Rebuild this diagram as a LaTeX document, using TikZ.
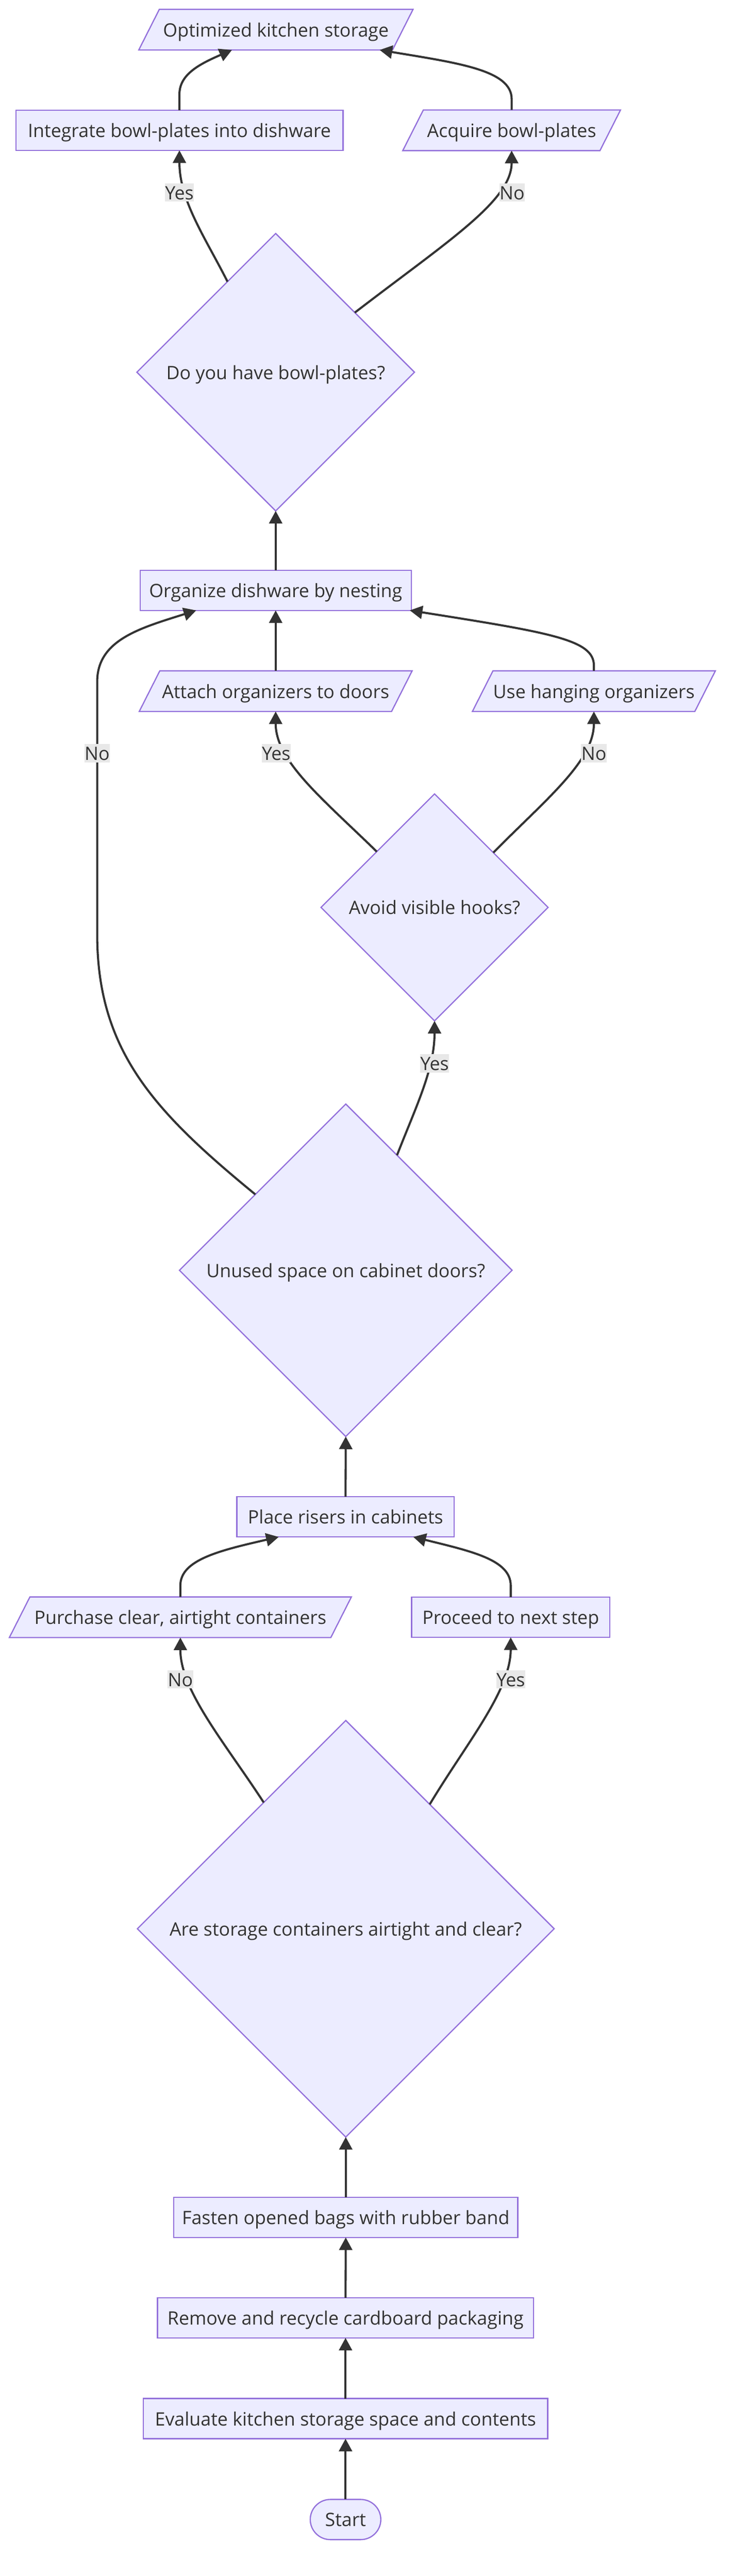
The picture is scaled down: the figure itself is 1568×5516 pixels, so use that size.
\documentclass[tikz,border=0pt]{standalone}
\usepackage{fontspec}
\setmainfont{Open Sans}
\usetikzlibrary{shapes.geometric,arrows.meta,backgrounds}
\definecolor{nfill}{HTML}{ECECFF}
\definecolor{nline}{HTML}{9370DB}
\definecolor{eline}{HTML}{333333}
\definecolor{lbg}{HTML}{E8E8E8}
\begin{document}
\begin{tikzpicture}[x=1pt,y=-1pt,
  every node/.style={font=\fontsize{39.5}{47}\selectfont, text=eline, inner sep=0pt, outer sep=0pt, text height=30pt, text depth=0pt},
  box/.style={rectangle, draw=nline, fill=nfill, line width=2.6pt, minimum height=86pt},
  pg/.style={rectangle, minimum height=87pt},
  dia/.style={diamond, aspect=1, draw=nline, fill=nfill, line width=2.6pt},
  term/.style={rectangle, rounded corners=43pt, draw=nline, fill=nfill, line width=2.6pt, minimum height=86pt, minimum width=151pt},
  pgshape/.style={draw=nline, fill=nfill, line width=2.6pt},
  conn/.style={draw=eline, line width=4.5pt, -{Triangle[length=27pt,width=28pt]}},
  lbl/.style={fill=lbg, inner xsep=0.5pt, inner ysep=4.5pt}
]
\useasboundingbox (0,0) rectangle (1568,5516);

% nodes
\node[pg, minimum width=587pt] (opt) at (590.5,63.5) {Optimized kitchen storage};
\node[box, minimum width=700pt] (integ) at (384,279) {Integrate bowl-plates into dishware};
\node[pg, minimum width=466pt] (acq) at (1095,279) {Acquire bowl-plates};
\node[dia, minimum width=594pt, minimum height=594pt] (dq1) at (590,797) {Do you have bowl-plates?};
\node[box, minimum width=580pt] (org) at (590,1264) {Organize dishware by nesting};
\node[pg, minimum width=584pt] (att) at (590,1480) {Attach organizers to doors};
\node[pg, minimum width=520pt] (hang) at (1271,1480) {Use hanging organizers};
\node[dia, minimum width=486pt, minimum height=486pt] (dq2) at (930,1943) {Avoid visible hooks?};
\node[dia, minimum width=712pt, minimum height=712pt] (dq3) at (740,2720) {Unused space on cabinet doors?};
\node[box, minimum width=465pt] (ris) at (739.5,3248) {Place risers in cabinets};
\node[pg, minimum width=732pt] (pur) at (386,3463) {Purchase clear, airtight containers};
\node[box, minimum width=424pt] (proc) at (1093,3463) {Proceed to next step};
\node[dia, minimum width=892pt, minimum height=892pt] (dq4) at (740,4130) {Are storage containers airtight and clear?};
\node[box, minimum width=736pt] (fast) at (740,4748) {Fasten opened bags with rubber band};
\node[box, minimum width=805pt] (rem) at (739.5,4963) {Remove and recycle cardboard packaging};
\node[box, minimum width=865pt] (eval) at (739.5,5179) {Evaluate kitchen storage space and contents};
\node[term] (start) at (739.5,5395) {Start};

% parallelogram outlines
\begin{scope}[on background layer]
  \foreach \n in {opt,acq,att,hang,pur}
    \draw[pgshape] ([xshift=44pt]\n.north west) -- (\n.north east) -- ([xshift=-44pt]\n.south east) -- (\n.south west) -- cycle;
\end{scope}

% connectors
\draw[conn] (integ.north) -- (384,202) .. controls (384,160) and (425,138) .. ([xshift=-94pt]opt.south);
\draw[conn] (acq.north) -- (1095,212) .. controls (1095,150) and (980,135) .. ([xshift=222pt]opt.south);
\draw[conn] (dq1.118) .. controls (440,510) and (384,430) .. (integ.south);
\draw[conn] (dq1.37) .. controls (960,515) and (1095,430) .. (acq.south);
\draw[conn] (org.north) -- (dq1.south);
\draw[conn] (dq3.140) .. controls (330,2380) and (208,2250) .. (208,2000) -- (208,1460) .. controls (208,1370) and (300,1345) .. ([xshift=-170pt]org.south);
\draw[conn] (att.north) -- (org.south);
\draw[conn] (hang.north) -- (1271,1425) .. controls (1271,1370) and (1180,1355) .. ([xshift=287pt]org.south);
\draw[conn] (dq2.136.4) .. controls (690,1710) and (590,1630) .. (att.south);
\draw[conn] (dq2.43.6) .. controls (1170,1710) and (1271,1630) .. (hang.south);
\draw[conn] (dq3.66.7) .. controls (890,2370) and (930,2290) .. (dq2.south);
\draw[conn] (ris.north) -- (dq3.south);
\draw[conn] (pur.north) -- (386,3395) .. controls (386,3340) and (470,3320) .. ([xshift=-143pt]ris.south);
\draw[conn] (proc.north) -- (1093,3395) .. controls (1093,3340) and (1010,3322) .. ([xshift=145pt]ris.south);
\draw[conn] (dq4.123.2) .. controls (480,3730) and (386,3620) .. (pur.south);
\draw[conn] (dq4.56.8) .. controls (1000,3730) and (1093,3620) .. (proc.south);
\draw[conn] (fast.north) -- (dq4.south);
\draw[conn] (rem.north) -- (fast.south);
\draw[conn] (eval.north) -- (rem.south);
\draw[conn] (start.north) -- (eval.south);

% edge labels
\node[lbl] (l1) at (384,412) {Yes};
\node[lbl] (l2) at (1096,412) {No};
\node[lbl] (l3) at (208,1613) {No};
\node[lbl] (l4) at (591,1613) {Yes};
\node[lbl] (l5) at (1271,1613) {No};
\node[lbl] (l6) at (930,2277) {Yes};
\node[lbl] (l7) at (386,3596) {No};
\node[lbl] (l8) at (1093,3596) {Yes};
\end{tikzpicture}
\end{document}
